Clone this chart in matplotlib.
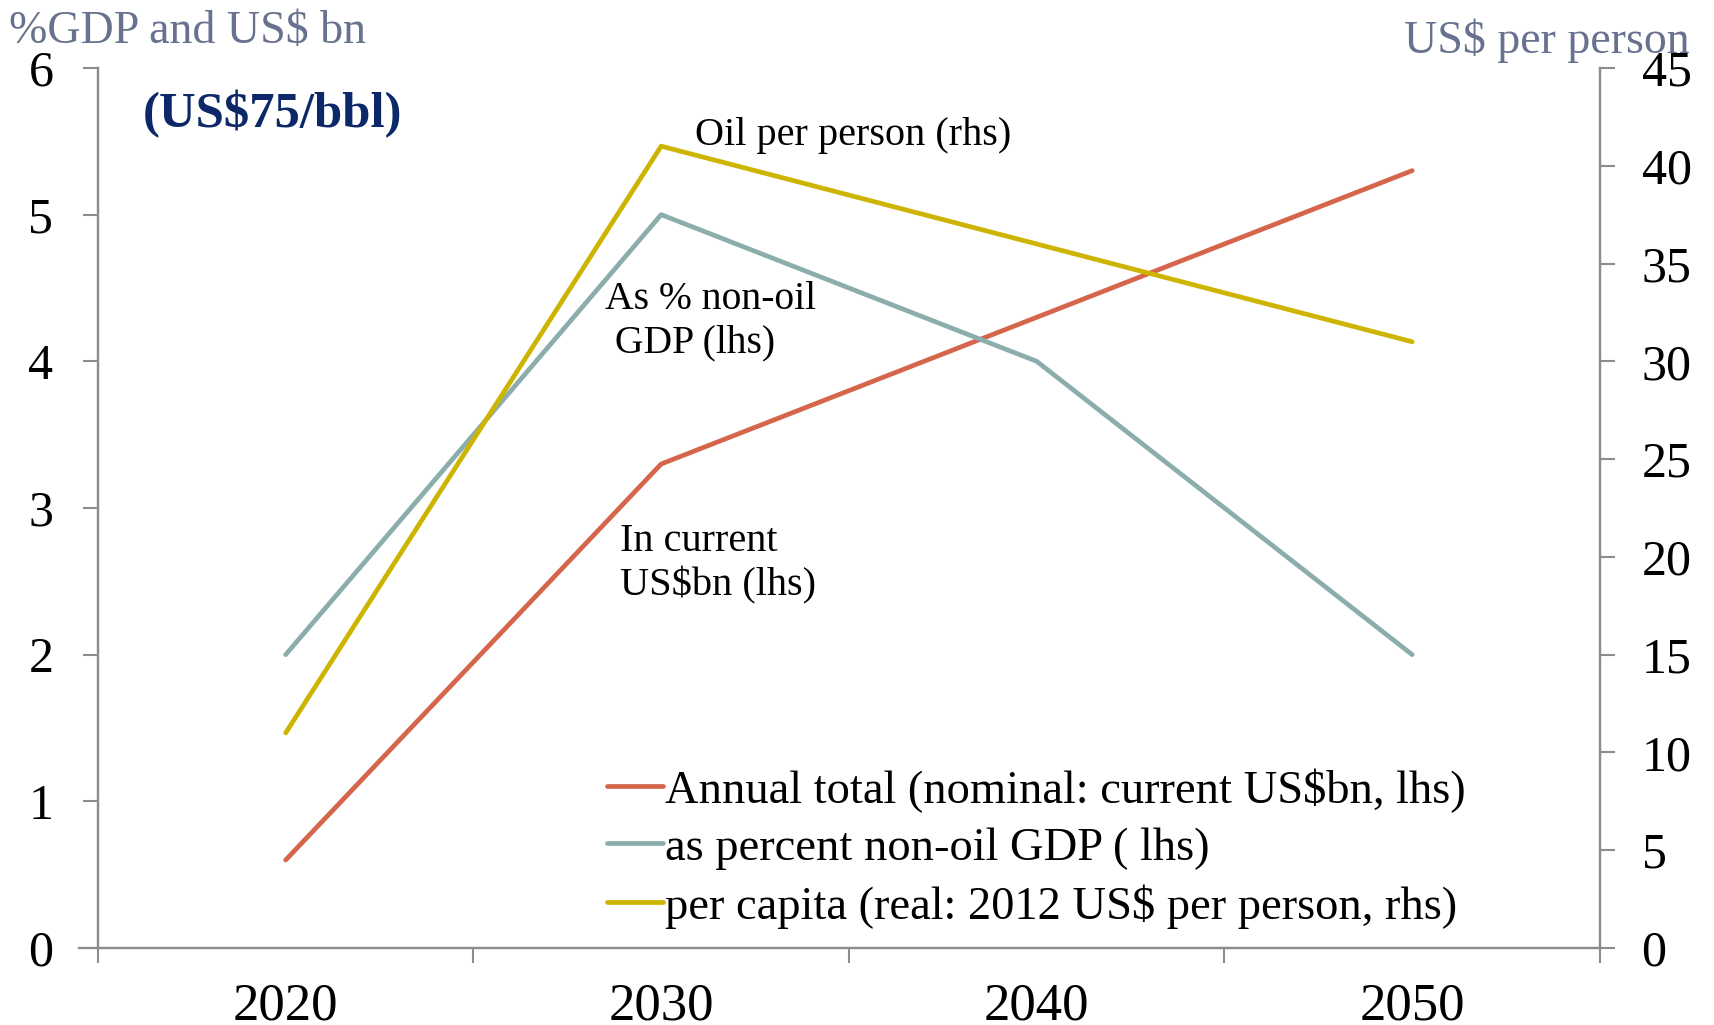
import matplotlib
matplotlib.use('Agg')
import matplotlib.pyplot as plt
import numpy as np

# data
years = ['2020', '2030', '2040', '2050']
annual_total = [0.6, 3.3, 4.3, 5.3]        # current US$bn, lhs
pct_nonoil_gdp = [2.0, 5.0, 4.0, 2.0]      # % non-oil GDP, lhs
per_capita = [11.0, 41.0, 36.0, 31.0]      # 2012 US$ per person, rhs

red = '#D5654B'
teal = '#8BAEAC'
yellow = '#CDB400'
grey = '#8C8C8C'
title_col = '#68728F'

plt.rcParams['font.family'] = ['Liberation Serif', 'DejaVu Serif']

fig = plt.figure(figsize=(17.15, 10.25), dpi=100)
ax = fig.add_axes([0.0571, 0.0751, 0.8758, 0.8586])
ax2 = ax.twinx()

x = np.arange(len(years))
l1, = ax.plot(x, annual_total, color=red, lw=3.4, solid_capstyle='round',
              label='Annual total (nominal: current US$bn, lhs)')
l2, = ax.plot(x, pct_nonoil_gdp, color=teal, lw=3.4, solid_capstyle='round',
              label='as percent non-oil GDP ( lhs)')
l3, = ax2.plot(x, per_capita, color=yellow, lw=3.4, solid_capstyle='round',
               label='per capita (real: 2012 US$ per person, rhs)')

ax.set_xlim(-0.5, 3.5)
ax.set_ylim(0, 6)
ax2.set_ylim(0, 45)
ax.set_yticks(range(0, 7))
ax2.set_yticks(range(0, 46, 5))

# category axis: labels at centres, ticks between categories
ax.set_xticks(x)
ax.set_xticklabels(years)
ax.set_xticks(np.arange(-0.5, 3.6, 1), minor=True)
ax.tick_params(axis='x', which='major', length=0, pad=25, labelsize=38)
ax.tick_params(axis='x', which='minor', length=11, width=1.5, color=grey)
ax.tick_params(axis='y', length=11, width=1.5, color=grey, pad=21, labelsize=36)
ax2.tick_params(axis='y', length=11, width=1.5, color=grey, pad=19, labelsize=36)

for a in (ax, ax2):
    for s in a.spines.values():
        s.set_color(grey)
        s.set_linewidth(1.6)
    a.spines['top'].set_visible(False)
ax.spines['bottom'].set_bounds(-0.55, 3.5)

fig.text(0.005, 0.99, '%GDP and US$ bn', color=title_col, fontsize=33,
         ha='left', va='top')
fig.text(0.985, 0.982, 'US$ per person', color=title_col, fontsize=33,
         ha='right', va='top')
fig.text(0.083, 0.889, '(US$75/bbl)', color='#0D2868', fontsize=36.5,
         fontweight='bold', ha='left', va='center')

ax.text(1.09, 5.54, 'Oil per person (rhs)', fontsize=29, ha='left', va='center')
ax.text(0.85, 4.275, 'As % non-oil\n GDP (lhs)', fontsize=28.5, ha='left',
        va='center', linespacing=1.22)
ax.text(0.89, 2.62, 'In current\nUS$bn (lhs)', fontsize=29, ha='left',
        va='center', linespacing=1.22)

ax.legend(handles=[l1, l2, l3], loc='lower left', bbox_to_anchor=(0.339, 0.022),
          frameon=False, fontsize=33.5, handlelength=1.2, handletextpad=0.05,
          labelspacing=0.31, borderpad=0, borderaxespad=0)

fig.savefig('out.png', dpi=100)
